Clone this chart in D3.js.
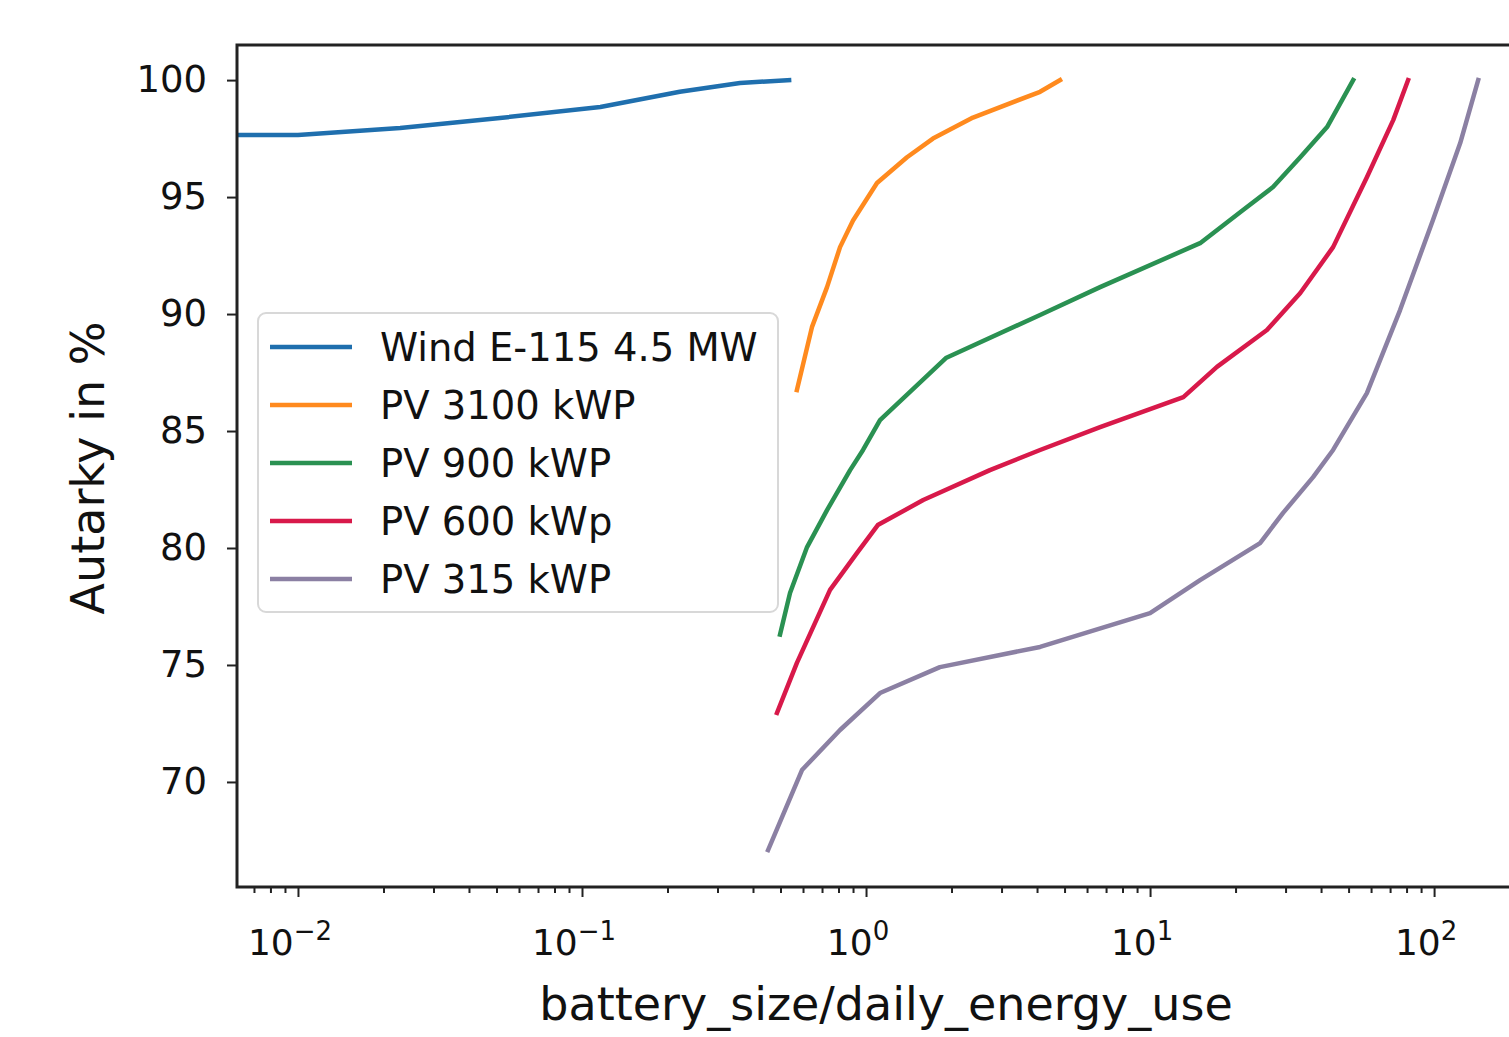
<!DOCTYPE html>
<html>
<head>
<meta charset="utf-8">
<script src="https://cdn.jsdelivr.net/npm/d3@7"></script>
<style>
  body { margin: 0; background: #fff; }
  text { font-family: "DejaVu Sans", sans-serif; fill: #111; }
</style>
</head>
<body>
<div id="chart"></div>
<script>
// series: [battery_size/daily_energy_use, autarky %]
const seriesNames = ["Wind E-115 4.5 MW", "PV 3100 kWP", "PV 900 kWP", "PV 600 kWp", "PV 315 kWP"];
const seriesColors = ["#1f6fae", "#ff8a1e", "#2a9152", "#d8194a", "#8b80a3"];

const wind = [[0.0061, 97.65], [0.01, 97.65], [0.0229, 97.95], [0.0514, 98.38], [0.116, 98.85],
  [0.221, 99.5], [0.36, 99.88], [0.536, 100.0]];
const pv3100 = [[0.571, 86.75], [0.645, 89.44], [0.729, 91.15], [0.81, 92.86], [0.9, 94.0],
  [1.093, 95.6], [1.394, 96.7], [1.72, 97.5], [2.38, 98.4], [4.1, 99.5], [4.82, 100.0]];
const pv900 = [[0.498, 76.3], [0.54, 78.08], [0.62, 80.04], [0.729, 81.62], [0.879, 83.33],
  [0.976, 84.19], [1.12, 85.47], [1.91, 88.12], [4.1, 89.96], [6.67, 91.15], [15.0, 93.03],
  [21.2, 94.44], [27.1, 95.43], [33.8, 96.7], [42.0, 97.99], [51.9, 100.0]];
const pv600 = [[0.486, 72.95], [0.571, 75.09], [0.747, 78.21], [0.93, 79.79], [1.1, 80.98],
  [1.59, 82.05], [2.73, 83.33], [4.1, 84.19], [6.67, 85.17], [13.1, 86.45], [17.2, 87.74],
  [25.8, 89.32], [33.8, 90.9], [44.1, 92.86], [58.0, 95.85], [71.8, 98.29], [81.0, 100.0]];
const pv315 = [[0.452, 67.09], [0.595, 70.51], [0.81, 72.22], [1.12, 73.8], [1.82, 74.91],
  [4.1, 75.77], [10.0, 77.22], [15.0, 78.63], [24.4, 80.21], [29.4, 81.5], [37.5, 83.03],
  [44.1, 84.19], [58.0, 86.62], [75.9, 90.17], [99.1, 94.02], [123.6, 97.31], [143.0, 100.0]];
const seriesData = [wind, pv3100, pv900, pv600, pv315];

const xTickValues = [1e-2, 1e-1, 1e0, 1e1, 1e2];
const xTickExps = ["\u22122", "\u22121", "0", "1", "2"];
const yTickValues = [70, 75, 80, 85, 90, 95, 100];

const width = 1509, height = 1037;
const plotLeft = 237, plotTop = 45, plotRight = 1540, plotBottom = 887;

const svg = d3.select("#chart").append("svg")
  .attr("width", width)
  .attr("height", height);

const x = d3.scaleLog().domain([0.0061, 236]).range([plotLeft, plotRight]);
const y = d3.scaleLinear().domain([65.51, 101.5]).range([plotBottom, plotTop]);

svg.append("clipPath").attr("id", "plot")
  .append("rect").attr("x", plotLeft).attr("y", plotTop)
  .attr("width", plotRight - plotLeft).attr("height", plotBottom - plotTop);

// lines
const line = d3.line().x(d => x(d[0])).y(d => y(d[1]));
svg.append("g").attr("clip-path", "url(#plot)")
  .selectAll("path")
  .data(seriesData)
  .enter()
  .append("path")
  .attr("d", line)
  .attr("fill", "none")
  .attr("stroke", (d, i) => seriesColors[i])
  .attr("stroke-width", 4.5)
  .attr("stroke-linejoin", "round")
  .attr("stroke-linecap", "square");

// x axis with log minor ticks
const minorTicks = [];
xTickValues.concat([1e-3]).forEach(base => {
  for (let k = 2; k <= 9; k++) {
    const v = base * k;
    if (v > x.domain()[0] && v < x.domain()[1]) minorTicks.push(v);
  }
});
const xAxis = svg.append("g").attr("transform", `translate(0,${plotBottom})`);
xAxis.call(d3.axisBottom(x).tickValues(xTickValues).tickSize(10).tickFormat(""));
xAxis.append("g").call(d3.axisBottom(x).tickValues(minorTicks).tickSize(6).tickFormat(""));
xAxis.selectAll("path.domain").remove();
xAxis.selectAll(".tick line").attr("stroke", "#222").attr("stroke-width", 2);

const xLabels = svg.append("g");
xTickValues.forEach((v, i) => {
  const t = xLabels.append("text")
    .attr("x", x(v) - 8)
    .attr("y", 955)
    .attr("text-anchor", "middle")
    .attr("font-size", 36);
  t.append("tspan").text("10");
  t.append("tspan").attr("dy", -15).attr("font-size", 26).text(xTickExps[i]);
});

// y axis
const yAxis = svg.append("g").attr("transform", `translate(${plotLeft},0)`);
yAxis.call(d3.axisLeft(y).tickValues(yTickValues).tickSize(10).tickPadding(20));
yAxis.selectAll("path.domain").remove();
yAxis.selectAll(".tick line").attr("stroke", "#222").attr("stroke-width", 2);
yAxis.selectAll(".tick text")
  .attr("font-size", 37)
  .attr("font-family", "DejaVu Sans")
  .attr("fill", "#111");

// spines
svg.append("rect")
  .attr("x", plotLeft).attr("y", plotTop)
  .attr("width", plotRight - plotLeft).attr("height", plotBottom - plotTop)
  .attr("fill", "none")
  .attr("stroke", "#222")
  .attr("stroke-width", 3);

// axis titles
svg.append("text")
  .attr("x", 886).attr("y", 1020)
  .attr("text-anchor", "middle")
  .attr("font-size", 46)
  .text("battery_size/daily_energy_use");
svg.append("text")
  .attr("transform", "translate(104,468) rotate(-90)")
  .attr("text-anchor", "middle")
  .attr("font-size", 46)
  .text("Autarky in %");

// legend
const legend = svg.append("g");
legend.append("rect")
  .attr("x", 258).attr("y", 313)
  .attr("width", 520).attr("height", 299)
  .attr("rx", 8)
  .attr("fill", "#fff")
  .attr("fill-opacity", 0.85)
  .attr("stroke", "#d8d8d8")
  .attr("stroke-width", 2);
const items = legend.selectAll("g.item")
  .data(seriesNames)
  .enter()
  .append("g")
  .attr("transform", (d, i) => `translate(0,${347 + i * 58})`);
items.append("line")
  .attr("x1", 270).attr("x2", 352)
  .attr("stroke", (d, i) => seriesColors[i])
  .attr("stroke-width", 4.5);
items.append("text")
  .attr("x", 380)
  .attr("dy", "0.36em")
  .attr("font-size", 38.5)
  .text(d => d);
</script>
</body>
</html>
